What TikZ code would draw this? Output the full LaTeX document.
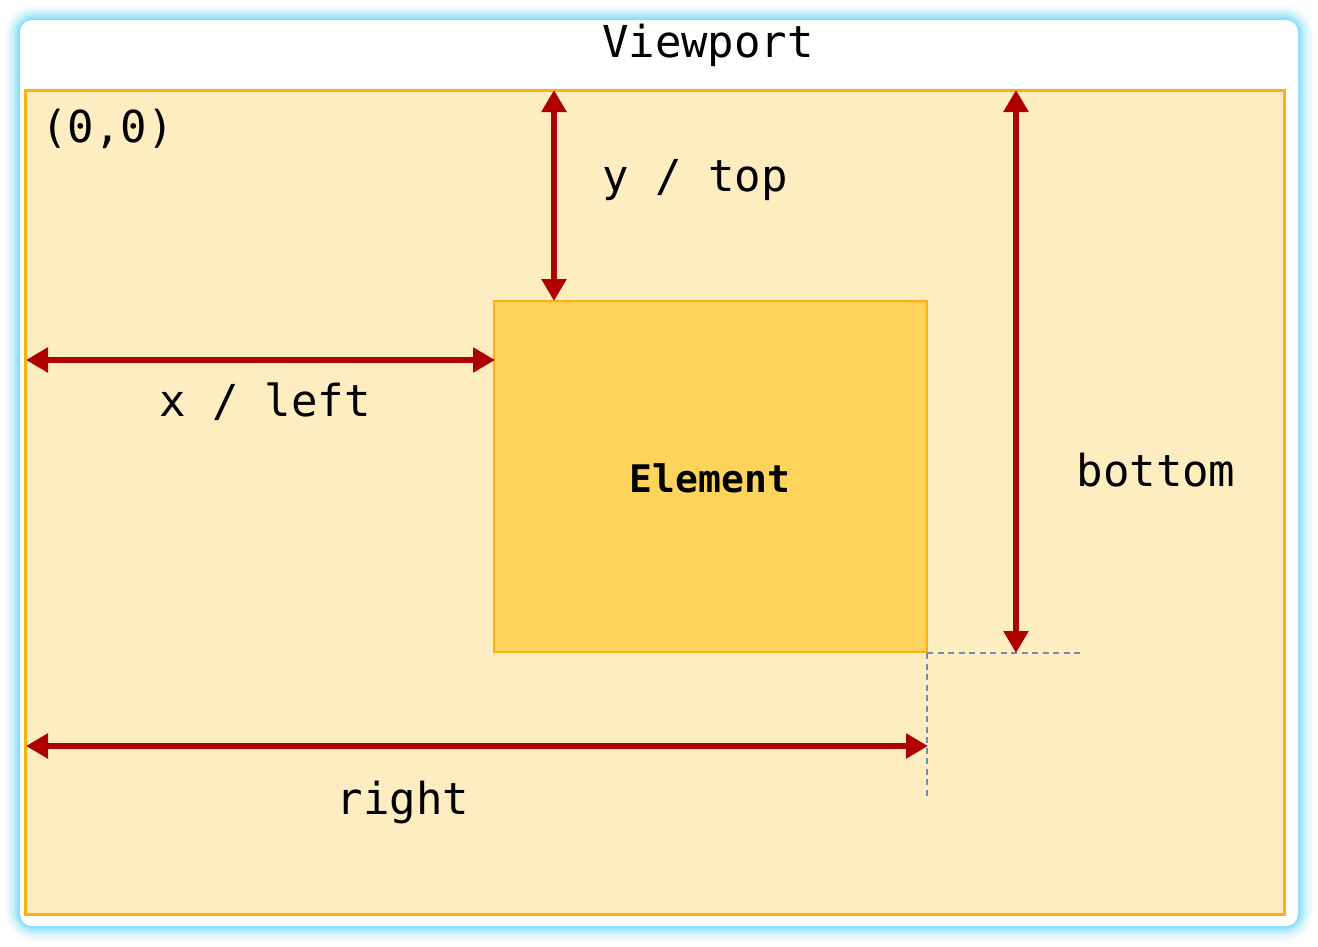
\documentclass[tikz,border=0pt]{standalone}
\usepackage{fontspec}
\newfontfamily\mono{DejaVu Sans Mono}
\usetikzlibrary{arrows.meta}
\definecolor{glow}{HTML}{7FDDFB}
\definecolor{vpfill}{HTML}{FFEDC2}
\definecolor{vpline}{HTML}{FFB010}
\definecolor{elfill}{HTML}{FDD35C}
\definecolor{arr}{HTML}{AE0000}
\definecolor{dash}{HTML}{6C8EBF}
\tikzset{
  dim/.style={draw=arr, line width=6pt, {Triangle[width=24pt,length=22pt]}-{Triangle[width=24pt,length=22pt]}, shorten <=-1pt, shorten >=-1pt},
  lbl/.style={font=\mono\fontsize{44}{44}\selectfont, text=black, inner sep=0pt},
  guide/.style={draw=dash, line width=1.8pt, dash pattern=on 6pt off 4.5pt},
  box/.style={line width=#1, inner sep=0pt, outer sep=0pt, anchor=north west},
}
\begin{document}
\begin{tikzpicture}[x=1pt,y=-1pt]
\useasboundingbox (0,0) rectangle (1318,946);
\fill[white] (0,0) rectangle (1318,946);
% glow
\foreach \w/\o in {30/0.06,26/0.08,22/0.1,18/0.14,14/0.2,10/0.32,6/0.5,3/0.8}{
  \draw[glow, line width=\w pt, opacity=\o, rounded corners=14pt] (20,20) rectangle (1298,926);
}
\fill[white, rounded corners=12pt] (20,20) rectangle (1298,926);
% viewport
\node[box=3pt, draw=vpline, fill=vpfill, minimum width=1259pt, minimum height=824pt] (vp) at (25,90) {};
\node[lbl, anchor=center] (title) at (708,45) {Viewport};
\node[lbl, anchor=west] (origin) at (41,129) {(0,0)};
% element
\node[box=2pt, draw=vpline, fill=elfill, minimum width=433pt, minimum height=351pt] (el) at (494,301) {};
\node[lbl, font=\mono\bfseries\fontsize{38}{38}\selectfont] (eltext) at (710,478) {Element};
% coordinates
\coordinate (topA) at (554,91);
\coordinate (topB) at (554,300);
\coordinate (leftA) at (27,360);
\coordinate (leftB) at (494,360);
\coordinate (botA) at (1016,91);
\coordinate (botB) at (1016,652);
\coordinate (rightA) at (27,746);
\coordinate (rightB) at (927,746);
\coordinate (corner) at (927,653);
\coordinate (gH) at (1083,653);
\coordinate (gV) at (927,800);
% guides
\draw[guide] (corner) -- (gH);
\draw[guide] (corner) -- (gV);
% arrows
\draw[dim] (topA) -- (topB);
\draw[dim] (leftA) -- (leftB);
\draw[dim] (botA) -- (botB);
\draw[dim] (rightA) -- (rightB);
% labels
\node[lbl] (ltop) at (695,180) {y / top};
\node[lbl] (lleft) at (265,402) {x / left};
\node[lbl] (lbot) at (1156,470) {bottom};
\node[lbl] (lright) at (403,802) {right};
\end{tikzpicture}
\end{document}
